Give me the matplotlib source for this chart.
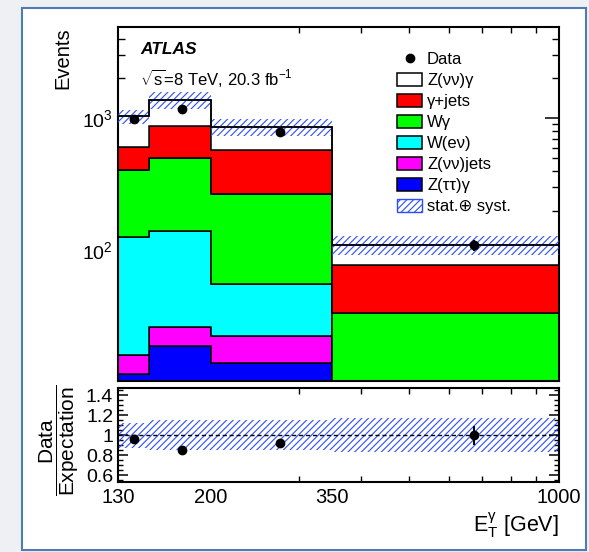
import numpy as np
import matplotlib
matplotlib.use("Agg")
import matplotlib.pyplot as plt
from matplotlib.patches import Patch, Rectangle
from matplotlib.lines import Line2D
from matplotlib.ticker import FixedLocator, NullFormatter, LogLocator, MultipleLocator, FixedFormatter

plt.rcParams['font.family'] = ['Liberation Sans', 'DejaVu Sans']
plt.rcParams['mathtext.fontset'] = 'custom'
plt.rcParams['mathtext.rm'] = 'Liberation Sans'
plt.rcParams['mathtext.it'] = 'Liberation Sans:italic'
plt.rcParams['mathtext.bf'] = 'Liberation Sans:bold'
plt.rcParams['mathtext.sf'] = 'Liberation Sans'
plt.rcParams['hatch.linewidth'] = 0.8

# ---------------- data ----------------
edges = np.array([130, 150, 200, 350, 1000])
z_tautau_gamma = np.array([11.6, 18.8, 14.1, 2.0])
z_nunu_jets = np.array([4.6, 7.6, 8.5, 2.0])
w_enu = np.array([110.0, 113.0, 33.5, 3.0])
w_gamma = np.array([280.0, 364.0, 209.0, 26.6])
gamma_jets = np.array([204.0, 369.0, 314.0, 44.3])
z_nunu_gamma = np.array([422.0, 510.0, 283.0, 32.6])
data = np.array([986.0, 1181.0, 790.0, 110.0])
data_err = np.array([31.0, 34.0, 28.0, 10.5])
syst_rel = np.array([0.125, 0.15, 0.15, 0.17])

x_tick_vals = [130, 200, 350, 1000]
x_tick_labels = ['130', '200', '350', '1000']
x_minor_ticks = [200, 300, 400, 500, 600, 700, 800, 900]

components = [
    (z_tautau_gamma, '#0000ff', 'Z(ττ)γ'),
    (z_nunu_jets, '#ff00ff', 'Z(νν)jets'),
    (w_enu, '#00ffff', 'W(eν)'),
    (w_gamma, '#00ff00', 'Wγ'),
    (gamma_jets, '#ff0000', 'γ+jets'),
    (z_nunu_gamma, '#ffffff', 'Z(νν)γ'),
]

# ---------------- figure ----------------
W, H = 589, 552
fig = plt.figure(figsize=(W / 100, H / 100), dpi=100, facecolor='#eef0f3')
fig.patches.append(Rectangle((22 / W, 1 - 550 / H), (586 - 22) / W, (550 - 8) / H,
                             transform=fig.transFigure, facecolor='white',
                             edgecolor='#4f7cb5', lw=1.5, zorder=-5))

def px_axes(l, t, r, b):
    return [l / W, 1 - b / H, (r - l) / W, (b - t) / H]

ax = fig.add_axes(px_axes(118, 27, 559, 381))
axr = fig.add_axes(px_axes(118, 388, 559, 482), sharex=ax)

# stacked histogram
bottom = np.full(len(data), 1e-3)
for vals, col, lab in components:
    top = bottom + vals
    ax.stairs(top, edges, baseline=bottom, fill=True, facecolor=col,
              edgecolor='black', lw=1.1, zorder=2)
    bottom = top
total = bottom

hatch_col = '#2a4dff'
ax.stairs(total * (1 + syst_rel), edges, baseline=total * (1 - syst_rel), fill=True,
          facecolor='none', edgecolor=hatch_col, hatch='/////', lw=0, zorder=3)
ax.stairs(total, edges, baseline=None, fill=False, edgecolor='black', lw=1.1, zorder=3)

centers = 0.5 * (edges[:-1] + edges[1:])
ax.errorbar(centers, data, yerr=data_err, fmt='o', color='black', ms=6,
            elinewidth=1.5, capsize=0, zorder=5)

ax.set_xscale('log')
ax.set_yscale('log')
ax.set_xlim(edges[0], edges[-1])
ax.set_ylim(10.3, 4900)

for a in (ax, axr):
    for s in a.spines.values():
        s.set_linewidth(1.5)
    a.tick_params(which='both', direction='in', top=True, right=True, colors='black')
    a.xaxis.set_major_locator(FixedLocator(x_tick_vals))
    a.xaxis.set_major_formatter(FixedFormatter(x_tick_labels))
    a.xaxis.set_minor_locator(FixedLocator(x_minor_ticks))
    a.xaxis.set_minor_formatter(NullFormatter())
    a.tick_params(axis='x', which='major', length=0)
    a.tick_params(axis='x', which='minor', length=4, width=1.0)

ax.yaxis.set_major_locator(LogLocator(base=10, numticks=10))
ax.yaxis.set_minor_locator(LogLocator(base=10, subs=np.arange(2, 10), numticks=20))
ax.yaxis.set_minor_formatter(NullFormatter())
ax.tick_params(axis='y', which='major', length=10, width=1.1, labelsize=14, pad=4)
ax.tick_params(axis='y', which='minor', length=5, width=1.0)
ax.tick_params(axis='x', labelbottom=False)

ax.set_ylabel('Events', fontsize=14.5, loc='top')
ax.yaxis.set_label_coords(-0.104, 1.0)

ax.text(0.0515, 0.9237, 'ATLAS', transform=ax.transAxes, fontsize=12.5,
        fontweight='bold', fontstyle='italic', va='baseline')
ax.text(0.049, 0.836, r'$\sqrt{\mathrm{s}}$=8 TeV, 20.3 fb$^{\mathrm{-1}}$', transform=ax.transAxes,
        fontsize=12, va='baseline')

handles = [Line2D([], [], marker='o', color='black', ls='none', ms=6)]
labels = ['Data']
for vals, col, lab in components[::-1]:
    handles.append(Patch(facecolor=col, edgecolor='black', lw=1.1))
    labels.append(lab)
handles.append(Patch(facecolor='none', edgecolor=hatch_col, hatch='/////', lw=1.0))
labels.append('stat.⊕ syst.')
ax.legend(handles, labels, loc='upper left', bbox_to_anchor=(0.6327, 0.931),
          frameon=False, fontsize=12, borderpad=0, borderaxespad=0,
          handlelength=1.5, handleheight=0.85, handletextpad=0.3, labelspacing=0.34)

# ratio panel
ratio = data / total
ratio_err = data_err / total
axr.stairs(1 + syst_rel, edges, baseline=1 - syst_rel, fill=True, facecolor='none',
           edgecolor=hatch_col, hatch='/////', lw=0, zorder=2)
axr.axhline(1.0, color='black', lw=1.0, ls=(0, (3, 2)), zorder=3)
axr.errorbar(centers, ratio, yerr=ratio_err, fmt='o', color='black', ms=6,
             elinewidth=1.5, capsize=0, zorder=5)
axr.set_ylim(0.53, 1.47)
axr.yaxis.set_major_locator(FixedLocator([0.6, 0.8, 1.0, 1.2, 1.4]))
axr.yaxis.set_major_formatter(FixedFormatter(['0.6', '0.8', '1', '1.2', '1.4']))
axr.yaxis.set_minor_locator(MultipleLocator(0.05))
axr.tick_params(axis='y', which='major', length=7, width=1.1, labelsize=14, pad=3.5)
axr.tick_params(axis='y', which='minor', length=3.5, width=1.0)
axr.tick_params(axis='x', which='major', labelsize=14.5, pad=4)

axr.set_xlabel(r'$\mathrm{E}_{\mathrm{T}}^{\mathrm{\gamma}}$ [GeV]', fontsize=15.5, loc='right')
axr.xaxis.set_label_coords(1.0, -0.31)

fig.text(59 / W, 1 - 440 / H, r'$\dfrac{\mathrm{Data}}{\mathrm{Expectation}}$', rotation=90,
         fontsize=15, ha='center', va='center')

fig.savefig('out.png', dpi=100, facecolor=fig.get_facecolor())
